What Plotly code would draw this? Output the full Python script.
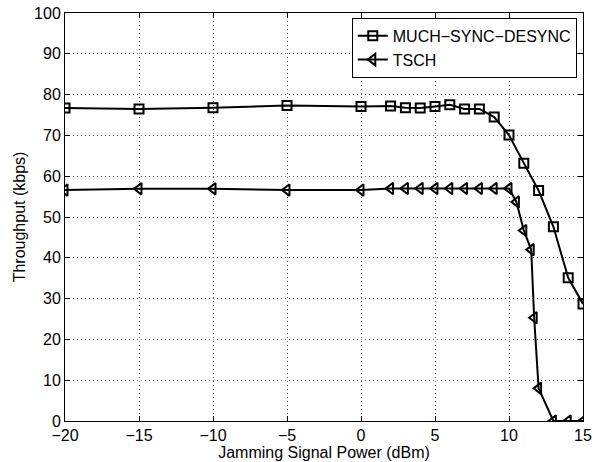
import plotly.graph_objects as go

x_much = [-20, -15, -10, -5, 0, 2, 3, 4, 5, 6, 7, 8, 9, 10, 11, 12, 13, 14, 15]
y_much = [76.7, 76.5, 76.8, 77.3, 77.1, 77.2, 76.8, 76.7, 77.1, 77.5, 76.5, 76.5, 74.5, 70.1, 63.2, 56.5, 47.6, 35.1, 28.7]

x_tsch = [-20, -15, -10, -5, 0, 2, 3, 4, 5, 6, 7, 8, 9, 10, 10.5, 11, 11.5, 11.7, 12, 13, 14, 15]
y_tsch = [56.6, 56.9, 56.9, 56.6, 56.6, 57.0, 57.0, 57.0, 57.0, 57.0, 57.0, 57.0, 57.0, 57.0, 53.7, 46.7, 42.0, 25.3, 8.0, 0, 0, 0]

x_ticks = [-20, -15, -10, -5, 0, 5, 10, 15]
y_ticks = [0, 10, 20, 30, 40, 50, 60, 70, 80, 90, 100]

font = "Liberation Sans, Arial, Helvetica, sans-serif"

fig = go.Figure()
fig.add_trace(go.Scatter(
    x=x_much, y=y_much, name="MUCH\u2212SYNC\u2212DESYNC", mode="lines+markers",
    line=dict(color="black", width=2),
    marker=dict(symbol="square-open", size=9, color="black", line=dict(width=2)),
))
fig.add_trace(go.Scatter(
    x=x_tsch, y=y_tsch, name="TSCH", mode="lines+markers",
    line=dict(color="black", width=2),
    marker=dict(symbol="triangle-left-open", size=10, color="black", line=dict(width=2)),
))

axis_common = dict(
    showline=True, linecolor="black", linewidth=1, mirror="ticks",
    ticks="inside", ticklen=5, tickcolor="black",
    showgrid=True, gridcolor="#666666", griddash="1px,3px", gridwidth=1,
    zeroline=False, automargin=False,
    tickfont=dict(family=font, size=16, color="black"),
)

fig.update_xaxes(
    range=[-20, 15], tickvals=x_ticks,
    title=dict(text="Jamming Signal Power (dBm)", font=dict(family=font, size=16, color="black"), standoff=0),
    **axis_common,
)
fig.update_yaxes(
    range=[0, 100], tickvals=y_ticks,
    title=dict(text="Throughput (kbps)", font=dict(family=font, size=16, color="black"), standoff=4),
    **axis_common,
)

fig.update_layout(
    template="none",
    width=595, height=462,
    margin=dict(l=65, r=12, t=13, b=41),
    paper_bgcolor="white", plot_bgcolor="white",
    font=dict(family=font, size=16, color="black"),
    legend=dict(
        x=0.988, y=0.988, xanchor="right", yanchor="top",
        bgcolor="white", bordercolor="black", borderwidth=1,
        font=dict(family=font, size=16, color="black"),
        tracegroupgap=0, itemwidth=30,
    ),
)

fig.write_html(
    "out.html",
    config={"displayModeBar": False},
    post_script="document.body.style.margin='0';document.body.style.overflow='hidden';",
)
